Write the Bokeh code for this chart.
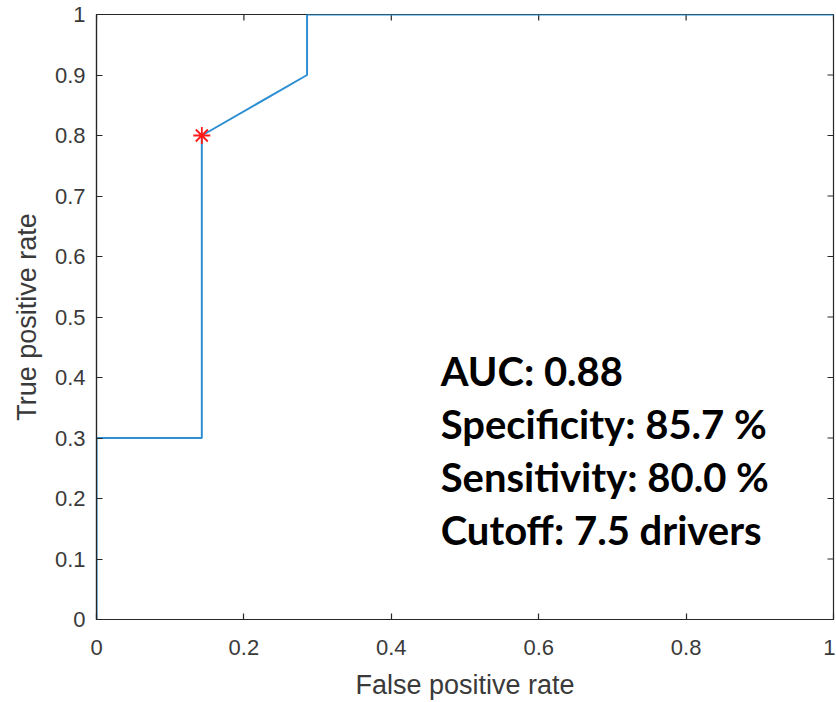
from bokeh.plotting import figure
from bokeh.models import Range1d, FixedTicker, Label
from bokeh.embed import file_html
from bokeh.resources import INLINE

# ROC curve data
fpr = [0.0, 0.0, 0.1429, 0.1429, 0.2857, 0.2857, 1.0]
tpr = [0.0, 0.3, 0.3, 0.8, 0.9, 1.0, 1.0]
cut_fpr = [0.1429]
cut_tpr = [0.8]
x_ticks = [0, 0.2, 0.4, 0.6, 0.8, 1]
y_ticks = [0, 0.1, 0.2, 0.3, 0.4, 0.5, 0.6, 0.7, 0.8, 0.9, 1]
stats_lines = ["AUC: 0.88", "Specificity: 85.7 %", "Sensitivity: 80.0 %", "Cutoff: 7.5 drivers"]

AX = "#262626"
TXT = "#3a3a3a"

p = figure(frame_width=737, frame_height=605, output_backend="svg", toolbar_location=None,
           x_range=Range1d(0, 1), y_range=Range1d(0, 1),
           min_border_left=96, min_border_right=2, min_border_top=14, min_border_bottom=74)
p.background_fill_color = "white"
p.border_fill_color = "white"
p.grid.visible = False
p.outline_line_color = AX
p.outline_line_width = 1.2
p.outline_line_alpha = 1

for ax, ticks in ((p.xaxis[0], x_ticks), (p.yaxis[0], y_ticks)):
    ax.ticker = FixedTicker(ticks=ticks)
    ax.major_tick_in = 6
    ax.major_tick_out = 0
    ax.minor_tick_line_color = None
    ax.axis_line_color = AX
    ax.axis_line_width = 1.2
    ax.major_tick_line_color = AX
    ax.major_tick_line_width = 1.2
    ax.major_label_text_font = "Liberation Sans"
    ax.major_label_text_font_size = "22px"
    ax.major_label_text_color = TXT
    ax.axis_label_text_font = "Liberation Sans"
    ax.axis_label_text_font_size = "27px"
    ax.axis_label_text_font_style = "normal"
    ax.axis_label_text_color = TXT

p.xaxis.major_label_standoff = 20
p.xaxis.axis_label_standoff = 12
p.yaxis.major_label_standoff = 11
p.yaxis.axis_label_standoff = 10
p.xaxis.axis_label = "False positive rate"
p.yaxis.axis_label = "True positive rate"
p.xaxis.major_label_overrides = {0: "0", 1: "1"}
p.yaxis.major_label_overrides = {0: "0", 1: "1"}

# inward ticks on top and right edges
tl_x = 6 / 605
tl_y = 6 / 737
p.segment(x0=x_ticks, y0=[1] * len(x_ticks), x1=x_ticks, y1=[1 - tl_x] * len(x_ticks),
          line_color=AX, line_width=1.2)
p.segment(x0=[1] * len(y_ticks), y0=y_ticks, x1=[1 - tl_y] * len(y_ticks), y1=y_ticks,
          line_color=AX, line_width=1.2)

p.line(fpr, tpr, line_color="#2e8fd2", line_width=2)
p.scatter(cut_fpr, cut_tpr, marker="asterisk", size=17, line_color="#ff1a1a", line_width=1.8)

y0 = 0.41
dy = 53 / 605
for i, s in enumerate(stats_lines):
    p.add_layout(Label(x=0.467, y=y0 - i * dy, text=s, text_font="Lato",
                       text_font_style="bold", text_font_size="40px", text_color="black",
                       text_baseline="middle", text_align="left"))

open("out.html", "w").write(file_html(p, INLINE))
